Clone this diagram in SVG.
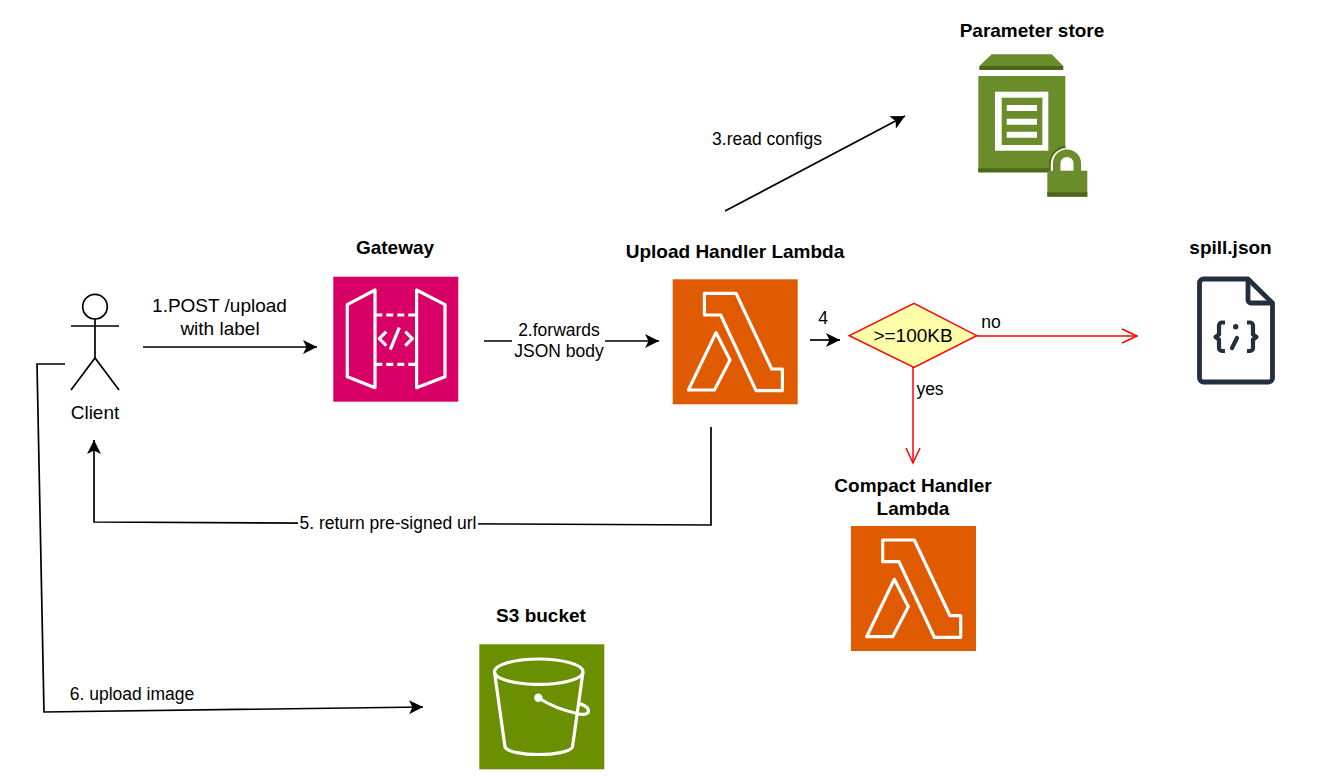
<svg xmlns="http://www.w3.org/2000/svg" width="1344" height="776" viewBox="0 0 1344 776">
<style>
text{font-family:"Liberation Sans",Arial,sans-serif;fill:#000;text-anchor:middle}
.t{font-size:19px;font-weight:bold}
.l{font-size:17.500px}
.m{font-size:19px}
.e{fill:none;stroke:#000;stroke-width:1.700}
.r{fill:none;stroke:#ff0000;stroke-width:1.500}
.w{fill:none;stroke:#fff;stroke-width:3.200;stroke-linejoin:round}
.bg{fill:#fff}
.g{fill:#6b8c2a}
.d{fill:#4b6618}
.f{fill:none;stroke:#232f3e;stroke-width:4.800;stroke-linejoin:round}
.b{fill:none;stroke:#232f3e;stroke-width:4.200;stroke-linejoin:round}
</style>
<defs>
<marker id="ah" markerUnits="userSpaceOnUse" markerWidth="16" markerHeight="14" refX="14" refY="7" orient="auto"><path d="M0 0L14 7L0 14L3.500 7Z" fill="#000"/></marker>
<marker id="ar" markerUnits="userSpaceOnUse" markerWidth="18" markerHeight="16" refX="16" refY="8" orient="auto"><path d="M1 1L16 8L1 15" fill="none" stroke="#ff0000" stroke-width="1.500"/></marker>
<symbol id="lambda" width="125" height="125" viewBox="0 0 125 125" overflow="visible">
<rect width="125" height="125" fill="#e05a00"/>
<path class="w" d="M31.700 14H63.300L99 89.700H109.700V111.300H83.300L48 35.700H31.700Z"/>
<path class="w" d="M43.300 53.300L57.300 80.700L41.700 110.700H15.700Z"/>
</symbol>
</defs>
<g id="connectors">
<path class="e" d="M143 347H317" marker-end="url(#ah)"/>
<path class="e" d="M484 341H659" marker-end="url(#ah)"/>
<path class="e" d="M725 211L905 116" marker-end="url(#ah)"/>
<path class="e" d="M810 340H840" marker-end="url(#ah)"/>
<path class="r" d="M977 336H1137" marker-end="url(#ar)"/>
<path class="r" d="M913 367V463" marker-end="url(#ar)"/>
<path class="e" d="M711 427V525L94 522V440" marker-end="url(#ah)"/>
<path class="e" d="M65 364H37L44 712L423 707" marker-end="url(#ah)"/>
</g>
<g id="edge-labels">
<text class="m" x="219.500" y="311.500">1.POST /upload</text>
<text class="m" x="220" y="334.500">with label</text>
<rect class="bg" x="512" y="320" width="93" height="41"/>
<text class="l" x="559" y="335.500">2.forwards</text>
<text class="l" x="559" y="356.500">JSON body</text>
<text class="l" x="767" y="145">3.read configs</text>
<text class="l" x="823" y="324">4</text>
<text class="l" x="991" y="328">no</text>
<text class="l" x="930" y="395">yes</text>
<rect class="bg" x="298" y="513" width="180" height="21"/>
<text class="l" x="388" y="529">5. return pre-signed url</text>
<text class="l" x="132" y="700">6. upload image</text>
</g>
<g id="client">
<circle cx="95" cy="306.700" r="12.300" fill="#fff" stroke="#000" stroke-width="1.700"/>
<path d="M71 326H119M95 319V358M71 390L95 358L119 390" fill="none" stroke="#000" stroke-width="1.700"/>
<text class="m" x="95" y="418.500">Client</text>
</g>
<g id="gateway">
<text class="t" x="395" y="253.500">Gateway</text>
<rect x="333.300" y="276.700" width="125" height="125" fill="#d80066"/>
<g transform="translate(333.300 276.700)">
<path class="w" d="M14 28L41.700 13.300V111L14 100Z"/>
<path class="w" d="M83.300 13.300L111.700 28V100L83.300 111Z"/>
<path d="M42 38.300H84M42 87.700H84" fill="none" stroke="#fff" stroke-width="3.200" stroke-dasharray="7 4"/>
<path class="w" d="M53 55L46 62L53 69M72 55L79 62L72 69M66 51L57 73"/>
</g>
</g>
<g id="upload-handler">
<text class="t" x="735" y="257.500">Upload Handler Lambda</text>
<use href="#lambda" x="672.700" y="279.300"/>
</g>
<g id="parameter-store">
<text class="t" x="1032" y="36.500">Parameter store</text>
<path class="g" d="M979.300 66L991.700 54.300H1051.700L1063.300 66Z"/>
<rect class="d" x="979.300" y="66" width="84" height="4"/>
<rect class="g" x="978.300" y="76" width="87" height="96.300"/>
<rect class="d" x="978.300" y="168.300" width="87" height="4"/>
<rect x="995" y="91.700" width="53.300" height="59" fill="#fff"/>
<rect class="g" x="1001.700" y="97.700" width="40.700" height="47.300"/>
<path d="M1006.700 108H1037M1006.700 121.700H1037M1006.700 134.700H1037" stroke="#fff" stroke-width="6"/>
<path d="M1049 172V164A18 18 0 0 1 1065.300 146V172Z" fill="#4b6618"/>
<path d="M1050.700 172V164A16.500 16.500 0 0 1 1065.300 147.900V172Z" fill="#fff"/>
<path d="M1056.700 172V163.500A10.300 10.300 0 0 1 1077.300 163.500V172" fill="#fff" stroke="#6b8c2a" stroke-width="7.500"/>
<rect class="g" x="1047.300" y="170.700" width="40" height="26"/>
<rect class="d" x="1047.300" y="192.300" width="40" height="4.300"/>
</g>
<g id="decision">
<path d="M849.300 335.700L914 303.300L976.700 335.700L914 367.300Z" fill="#ffffaa" stroke="#ff0000" stroke-width="1.500"/>
<text class="m" x="913" y="342">&gt;=100KB</text>
</g>
<g id="spill-json">
<text class="t" x="1230.500" y="253.500">spill.json</text>
<path class="f" d="M1248 279H1203.500A4 4 0 0 0 1199.500 283V378A4 4 0 0 0 1203.500 382H1268.500A4 4 0 0 0 1272.500 378V303Z"/>
<path class="f" d="M1248 279V300A3 3 0 0 0 1251 303H1272.500"/>
<path class="b" d="M1225 322.500H1222A3 3 0 0 0 1219 325.500V334.500L1215.500 337L1219 339.500V348A3 3 0 0 0 1222 351H1225"/>
<path class="b" d="M1247 322.500H1250A3 3 0 0 1 1253 325.500V334.500L1256.500 337L1253 339.500V348A3 3 0 0 1 1250 351H1247"/>
<circle cx="1235.700" cy="326.700" r="2.700" fill="#232f3e"/>
<path d="M1237 338L1232 348" fill="none" stroke="#232f3e" stroke-width="4.200" stroke-linecap="round"/>
</g>
<g id="compact-handler">
<text class="t" x="913" y="491.500">Compact Handler</text>
<text class="t" x="913" y="514.500">Lambda</text>
<use href="#lambda" x="851" y="526"/>
</g>
<g id="s3-bucket">
<text class="t" x="541" y="621.500">S3 bucket</text>
<rect x="479.300" y="644.300" width="125" height="125" fill="#6a8f00"/>
<g fill="none" stroke="#fff" stroke-width="3.200">
<ellipse cx="538.700" cy="671.700" rx="44.300" ry="12.700"/>
<path d="M494.500 672L505 747C510 757 567 757 572.500 747L583 672"/>
<path d="M538.500 698Q556 709 577 713.500C586 716 590 713 588 709C586 705 580 704 577.500 703"/>
</g>
<circle cx="538.300" cy="697.700" r="4.200" fill="#fff"/>
</g>
</svg>
